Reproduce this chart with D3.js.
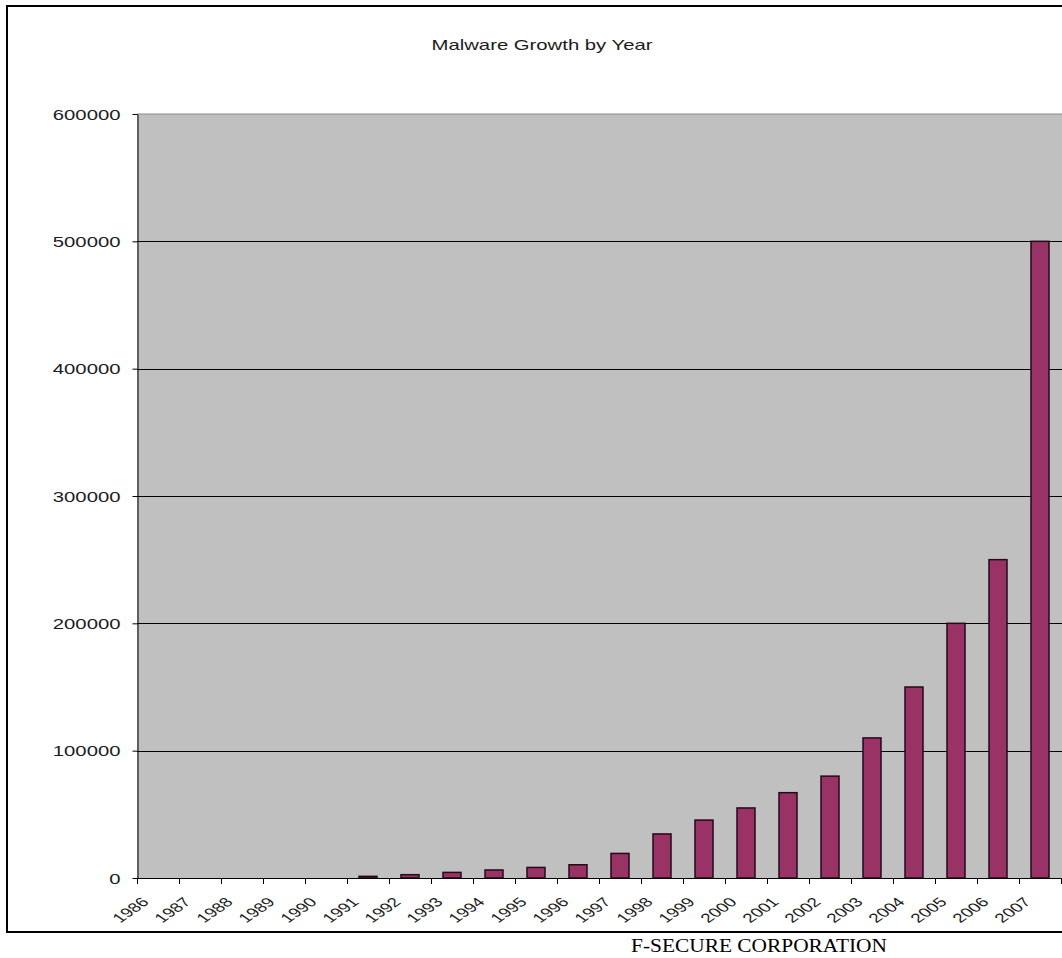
<!DOCTYPE html>
<html>
<head>
<meta charset="utf-8">
<script src="https://cdn.jsdelivr.net/npm/d3@7"></script>
<style>
  html, body { margin: 0; padding: 0; background: #fff; }
  svg { display: block; }
</style>
</head>
<body>
<svg id="chart" width="1062" height="958"></svg>
<script>
// Yearly count of known malware samples
const years = ["1986","1987","1988","1989","1990","1991","1992","1993","1994","1995","1996",
               "1997","1998","1999","2000","2001","2002","2003","2004","2005","2006","2007"];
const malwareCounts = [0, 0, 0, 0, 0, 1300, 2600, 4400, 6300, 8300, 10400,
                       19300, 34600, 45500, 55000, 67000, 80000, 110000, 150000, 200000, 250000, 500000];
const yTickValues = [0, 100000, 200000, 300000, 400000, 500000, 600000];
const chartTitle = "Malware Growth by Year";
const footerText = "F-SECURE CORPORATION";

const svg = d3.select("#chart");
const W = 1062, H = 958;
const plot = { left: 137, right: 1061, top: 114, bottom: 878 };
const stretch = 1.45;          // wide, horizontally stretched lettering
const textColor = "#1c1c1c";
const sans = "'Liberation Sans', Arial, sans-serif";

svg.append("rect").attr("width", W).attr("height", H).attr("fill", "#fff");

// outer chart frame (right side runs off the page)
svg.append("rect")
  .attr("x", 7).attr("y", 6)
  .attr("width", 1100).attr("height", 926)
  .attr("fill", "none").attr("stroke", "#000").attr("stroke-width", 2);

const x = d3.scaleBand().domain(years).range([plot.left, plot.right]).padding(0);
const y = d3.scaleLinear().domain([0, 600000]).range([plot.bottom, plot.top]);

// plot area
svg.append("rect")
  .attr("x", plot.left).attr("y", plot.top)
  .attr("width", W - plot.left + 10).attr("height", plot.bottom - plot.top)
  .attr("fill", "#c0c0c0");
svg.append("line")
  .attr("x1", plot.left).attr("x2", W + 10)
  .attr("y1", y(600000)).attr("y2", y(600000))
  .attr("stroke", "#8a8a8a").attr("stroke-width", 1);

// horizontal gridlines
svg.append("g")
  .selectAll("line")
  .data(yTickValues.filter(v => v > 0 && v < 600000))
  .join("line")
  .attr("x1", plot.left).attr("x2", W + 10)
  .attr("y1", d => Math.round(y(d)) + 0.5).attr("y2", d => Math.round(y(d)) + 0.5)
  .attr("stroke", "#000").attr("stroke-width", 1);

// bars
const barW = 18;
svg.append("g")
  .selectAll("rect")
  .data(years.map((yr, i) => ({ yr, v: malwareCounts[i] })))
  .join("rect")
  .attr("x", d => x(d.yr) + x.bandwidth() / 2 - barW / 2)
  .attr("y", d => y(d.v))
  .attr("width", barW)
  .attr("height", d => y(0) - y(d.v))
  .attr("fill", "#993366")
  .attr("stroke", "#250a18")
  .attr("stroke-width", 1.5);

// y axis
const yAxis = svg.append("g")
  .attr("transform", `translate(${plot.left + 0.5},0)`)
  .call(d3.axisLeft(y).tickValues(yTickValues).tickSize(5).tickSizeOuter(0).tickFormat(d3.format("d")));
yAxis.select(".domain").attr("stroke", "#000");
yAxis.selectAll(".tick line").attr("stroke", "#000");
yAxis.selectAll(".tick text").remove();
yAxis.selectAll(".tick").each(function(d) {
  d3.select(this).append("text")
    .attr("transform", `translate(-17,0) scale(${stretch},1)`)
    .attr("text-anchor", "end")
    .attr("dy", "0.36em")
    .attr("fill", textColor)
    .style("font-family", sans)
    .style("font-size", "14px")
    .text(d3.format("d")(d));
});

// x axis baseline and category boundary ticks
const xAxis = svg.append("g");
xAxis.append("line")
  .attr("x1", plot.left).attr("x2", W + 10)
  .attr("y1", y(0) + 0.5).attr("y2", y(0) + 0.5)
  .attr("stroke", "#000");
const bounds = years.map(yr => x(yr)).concat([x.range()[1]]);
xAxis.selectAll("line.tick")
  .data(bounds)
  .join("line")
  .attr("class", "tick")
  .attr("x1", d => Math.round(d) + 0.5).attr("x2", d => Math.round(d) + 0.5)
  .attr("y1", y(0)).attr("y2", y(0) + 6)
  .attr("stroke", "#000");

// rotated year labels
xAxis.selectAll("text")
  .data(years)
  .join("text")
  .attr("transform", d => `translate(${x(d) + x.bandwidth() / 2 - 8},${y(0) + 25}) scale(${stretch},1) rotate(-45)`)
  .attr("text-anchor", "end")
  .attr("fill", textColor)
  .style("font-family", sans)
  .style("font-size", "13px")
  .text(d => d);

// title
svg.append("text")
  .attr("transform", `translate(542,50) scale(${stretch},1)`)
  .attr("text-anchor", "middle")
  .attr("fill", textColor)
  .style("font-family", sans)
  .style("font-size", "14px")
  .text(chartTitle);

// footer
svg.append("text")
  .attr("x", 631).attr("y", 952)
  .attr("textLength", 256).attr("lengthAdjust", "spacingAndGlyphs")
  .attr("fill", "#000")
  .style("font-family", "'Liberation Serif', 'Times New Roman', serif")
  .style("font-size", "18px")
  .text(footerText);
</script>
</body>
</html>
